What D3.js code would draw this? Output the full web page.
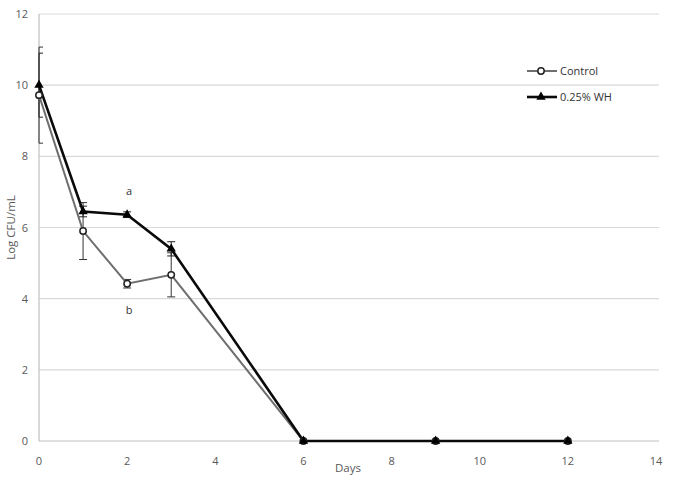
<!DOCTYPE html>
<html><head><meta charset="utf-8">
<script src="https://cdn.jsdelivr.net/npm/d3@7"></script>
<style>body{margin:0;background:#fff}</style>
</head><body>
<svg id="c" width="675" height="480"></svg>
<script>
const days = [0, 1, 2, 3, 6, 9, 12];
const controlVals = [9.72, 5.9, 4.42, 4.67, 0, 0, 0];
const controlErr = [1.35, 0.8, 0.12, 0.62, 0, 0, 0];
const whVals = [10.0, 6.45, 6.36, 5.4, 0, 0, 0];
const whErr = [0.9, 0.15, 0.08, 0.2, 0, 0, 0];
const xTicks = [0, 2, 4, 6, 8, 10, 12, 14];
const yTicks = [0, 2, 4, 6, 8, 10, 12];
const seriesNames = ["Control", "0.25% WH"];
const sigLabels = [{day: 2, val: 6.92, text: "a"}, {day: 2, val: 3.58, text: "b"}];

const svg = d3.select("#c");
const x = d3.scaleLinear().domain([0, 14]).range([39, 656]);
const y = d3.scaleLinear().domain([0, 12]).range([441, 14]);
const font = "'Open Sans', 'Liberation Sans', sans-serif";
const txt = "#595959";

// gridlines
svg.append("g").selectAll("line").data(yTicks).join("line")
  .attr("x1", x(0)).attr("x2", x(14)+3)
  .attr("y1", d => y(d)).attr("y2", d => y(d))
  .attr("stroke", d => d === 0 ? "#bfbfbf" : "#d9d9d9").attr("stroke-width", 1.2);
// y axis line
svg.append("line").attr("x1", x(0)).attr("x2", x(0)).attr("y1", y(12)).attr("y2", y(0))
  .attr("stroke", "#bfbfbf").attr("stroke-width", 1.2);

// tick labels
svg.append("g").selectAll("text").data(yTicks).join("text")
  .attr("x", 28).attr("y", d => y(d) + 4).attr("text-anchor", "end")
  .attr("font-family", font).attr("font-size", 11).attr("fill", txt).text(d => d);
svg.append("g").selectAll("text").data(xTicks).join("text")
  .attr("x", d => x(d)).attr("y", 465).attr("text-anchor", "middle")
  .attr("font-family", font).attr("font-size", 11).attr("fill", txt).text(d => d);

svg.append("text").attr("x", 348).attr("y", 472).attr("text-anchor", "middle")
  .attr("font-family", font).attr("font-size", 11.5).attr("fill", txt).text("Days");
svg.append("text").attr("transform", `translate(15,${y(6)}) rotate(-90)`).attr("text-anchor", "middle")
  .attr("font-family", font).attr("font-size", 11.5).attr("fill", txt).text("Log CFU/mL");

const line = d3.line().x(d => x(d[0])).y(d => y(d[1]));

function errBars(vals, errs, color, w) {
  const g = svg.append("g").attr("stroke", color).attr("stroke-width", w);
  days.forEach((d, i) => {
    if (errs[i] <= 0) return;
    const cx = x(d), t = y(vals[i] + errs[i]), b = y(vals[i] - errs[i]);
    const l = Math.max(x(0), cx - 4), r = cx + 4;
    g.append("line").attr("x1", cx).attr("x2", cx).attr("y1", t).attr("y2", b);
    g.append("line").attr("x1", l).attr("x2", r).attr("y1", t).attr("y2", t);
    g.append("line").attr("x1", l).attr("x2", r).attr("y1", b).attr("y2", b);
  });
}
errBars(controlVals, controlErr, "#333", 1);
errBars(whVals, whErr, "#222", 1);

const ctrlData = days.map((d, i) => [d, controlVals[i]]);
const whData = days.map((d, i) => [d, whVals[i]]);

svg.append("path").datum(ctrlData).attr("d", line).attr("fill", "none")
  .attr("stroke", "#6e6e6e").attr("stroke-width", 2);
svg.append("path").datum(whData).attr("d", line).attr("fill", "none")
  .attr("stroke", "#0a0a0a").attr("stroke-width", 2.6);

const tri = d3.symbol().type(d3.symbolTriangle).size(38);
svg.append("g").selectAll("circle").data(ctrlData).join("circle")
  .attr("cx", d => x(d[0])).attr("cy", d => y(d[1])).attr("r", 3.2)
  .attr("fill", "#fff").attr("stroke", "#222").attr("stroke-width", 1.5);
svg.append("g").selectAll("path").data(whData).join("path")
  .attr("d", tri).attr("transform", d => `translate(${x(d[0])},${y(d[1])})`).attr("fill", "#000");

// significance letters
svg.append("g").selectAll("text").data(sigLabels).join("text")
  .attr("x", d => x(d.day) + 2).attr("y", d => y(d.val)).attr("text-anchor", "middle")
  .attr("font-family", font).attr("font-size", 11).attr("fill", "#333").text(d => d.text);

// legend
const lg = svg.append("g");
[0, 1].forEach(i => {
  const ly = 71 + i * 26;
  lg.append("line").attr("x1", 527).attr("x2", 557).attr("y1", ly).attr("y2", ly)
    .attr("stroke", i === 0 ? "#6e6e6e" : "#0a0a0a").attr("stroke-width", i === 0 ? 2 : 2.6);
  if (i === 0) lg.append("circle").attr("cx", 541).attr("cy", ly).attr("r", 3.2)
    .attr("fill", "#fff").attr("stroke", "#222").attr("stroke-width", 1.5);
  else lg.append("path").attr("d", tri).attr("transform", `translate(541,${ly})`).attr("fill", "#000");
  lg.append("text").attr("x", 560).attr("y", ly + 4).attr("font-family", font).attr("font-size", 11)
    .attr("fill", "#333").text(seriesNames[i]);
});
</script>
</body></html>
